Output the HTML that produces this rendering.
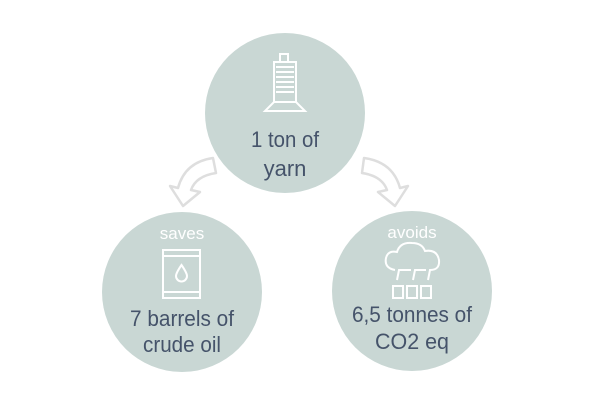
<!DOCTYPE html>
<html><head><style>
html,body{margin:0;padding:0;background:#fff;}
svg{display:block}
text{font-family:"Liberation Sans",sans-serif;}
</style></head><body>
<svg width="600" height="400" viewBox="0 0 600 400">
<circle cx="285" cy="113" r="80" fill="#c9d7d4"/>
<circle cx="182" cy="292" r="80" fill="#c9d7d4"/>
<circle cx="412" cy="291" r="80" fill="#c9d7d4"/>
<path d="M213,158 Q185,162 178,188 L170,186 L183,206 L200,192 L191,190 Q196,176 216,173 Z" fill="none" stroke="#dedede" stroke-width="2.5" stroke-linejoin="round"/>
<path d="M356,158 Q385,162 392,188 L400,186 L387,206 L370,192 L379,190 Q374,176 354,173 Z" fill="none" stroke="#dedede" stroke-width="2.5" stroke-linejoin="round" transform="translate(8,0)"/>
<g fill="none" stroke="#fff" stroke-width="2">
<rect x="280" y="54" width="8" height="8"/>
<rect x="274" y="62" width="22" height="40"/>
<line x1="276" y1="67" x2="294" y2="67"/><line x1="276" y1="72" x2="294" y2="72"/><line x1="276" y1="77" x2="294" y2="77"/><line x1="276" y1="82" x2="294" y2="82"/><line x1="276" y1="87" x2="294" y2="87"/><line x1="276" y1="92" x2="294" y2="92"/>
<path d="M274,102 L296,102 L305,111 L265,111 Z"/>
<rect x="163" y="250" width="37" height="48"/>
<line x1="163" y1="256" x2="200" y2="256"/><line x1="163" y1="292" x2="200" y2="292"/>
<path d="M181.5,265 Q176,273 176,276 A5.5,5.5 0 0 0 187,276 Q187,273 181.5,265 Z"/>
<path d="M395,270 Q384,268 386,258 Q388,250 397,252 Q400,242 412,243 Q422,243 425,251 Q437,249 439,260 Q440,270 430,270 L428,280 M426,270 L415,270 L413,280 M411,270 L399,270 L397,280"/>
<rect x="393" y="286" width="10" height="12"/><rect x="407" y="286" width="10" height="12"/><rect x="421" y="286" width="10" height="12"/>
</g>
<g fill="#45536a" text-anchor="middle" font-size="22">
<text x="285" y="147" textLength="68" lengthAdjust="spacingAndGlyphs">1 ton of</text>
<text x="285" y="176">yarn</text>
<text x="182" y="326" textLength="104" lengthAdjust="spacingAndGlyphs">7 barrels of</text>
<text x="182" y="352" textLength="78" lengthAdjust="spacingAndGlyphs">crude oil</text>
<text x="412" y="322" textLength="120" lengthAdjust="spacingAndGlyphs">6,5 tonnes of</text>
<text x="412" y="349" textLength="74" lengthAdjust="spacingAndGlyphs">CO2 eq</text>
</g>
<g fill="#fff" text-anchor="middle" font-size="17">
<text x="182" y="239">saves</text>
<text x="412" y="238">avoids</text>
</g>
</svg>
</body></html>
